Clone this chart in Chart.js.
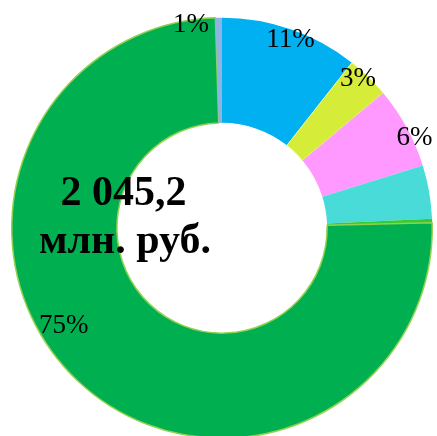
<!DOCTYPE html>
<html>
<head>
<meta charset="utf-8">
<script src="https://cdn.jsdelivr.net/npm/chart.js@4"></script>
<style>
html,body{margin:0;padding:0;overflow:hidden;background:#fff;}
#wrap{width:437px;height:440px;position:relative;}
</style>
</head>
<body>
<div id="wrap"><canvas id="c"></canvas></div>
<script>
// Data
const categories = ['A', 'B', 'C', 'D', 'E', 'F', 'G'];
const shares = [10.6, 3.3, 6.3, 4.1, 0.3, 74.9, 0.5];
const pctLabels = ['11%', '3%', '6%', '', '', '75%', '1%'];
const totalLines = ['2 045,2', 'млн. руб.'];

const colors = ['#00B0F0', '#D5EC38', '#FF99FF', '#48DBD7', '#33CC33', '#00B050', '#8DB4E2'];
const borderColors = ['#00B0F0', '#F2F78C', '#FF99FF', '#48DBD7', '#33CC33', '#92D050', '#8DB4E2'];
const borderWidths = [0, 1, 0, 0, 0, 1.5, 0];

// label placement: angle shift (deg) from arc middle, radius as fraction of outer radius
const labelPlacement = [
  {da: 1, rf: 0.95},
  {da: -1.7, rf: 0.96},
  {da: 3.6, rf: 1.01},
  null, null,
  {da: 14.8, rf: 0.886},
  {da: -7.8, rf: 0.975}
];

const labelPlugin = {
  id: 'pctLabels',
  afterDatasetsDraw(chart) {
    const ctx = chart.ctx;
    const meta = chart.getDatasetMeta(0);
    ctx.save();
    ctx.fillStyle = '#000';
    ctx.textAlign = 'center';
    ctx.textBaseline = 'middle';
    ctx.font = '27px "Liberation Serif", "Times New Roman", serif';
    meta.data.forEach((arc, i) => {
      const p = labelPlacement[i];
      if (!p || !pctLabels[i]) return;
      const mid = (arc.startAngle + arc.endAngle) / 2 + p.da * Math.PI / 180;
      const r = arc.outerRadius * p.rf;
      ctx.fillText(pctLabels[i], arc.x + Math.cos(mid) * r, arc.y + Math.sin(mid) * r);
    });
    // center total text
    const arc0 = meta.data[0];
    ctx.font = 'bold 42px "Liberation Serif", "Times New Roman", serif';
    ctx.textBaseline = 'alphabetic';
    ctx.fillText(totalLines[0], arc0.x - 98.5, arc0.y - 23);
    ctx.fillText(totalLines[1], arc0.x - 97, arc0.y + 25);
    ctx.restore();
  }
};

new Chart(document.getElementById('c'), {
  type: 'doughnut',
  data: {
    labels: categories,
    datasets: [{
      data: shares,
      backgroundColor: colors,
      borderColor: borderColors,
      borderWidth: borderWidths,
      hoverOffset: 0,
      offset: 0
    }]
  },
  options: {
    responsive: true,
    maintainAspectRatio: false,
    animation: false,
    cutout: '50%',
    rotation: 0,
    layout: {padding: {left: 11, right: 4, top: 17, bottom: 1}},
    plugins: {legend: {display: false}, tooltip: {enabled: false}}
  },
  plugins: [labelPlugin]
});
</script>
</body>
</html>
